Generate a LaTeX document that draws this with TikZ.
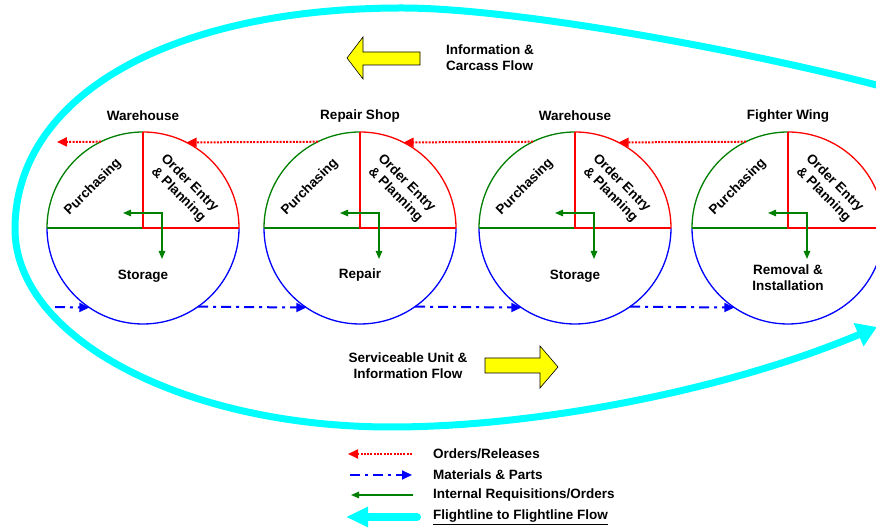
\documentclass[tikz,border=0pt]{standalone}
\usepackage{fontspec}
\setmainfont{Liberation Sans}
\usetikzlibrary{arrows.meta}
\definecolor{grn}{HTML}{008000}
\definecolor{cyn}{HTML}{00FFFF}
\definecolor{ylw}{HTML}{FFFF00}
\begin{document}
\begin{tikzpicture}[x=1pt,y=1pt,
  lbl/.style={font=\fontsize{13.5}{16}\selectfont\bfseries, inner sep=0pt, align=center},
  unitc/.style={circle, minimum size=192pt, inner sep=0pt, outer sep=0pt, draw=none},
  arcg/.style={draw=grn, line width=1.3pt},
  arcr/.style={draw=red, line width=1.3pt},
  arcb/.style={draw=blue, line width=1.3pt},
  ordr/.style={draw=red, line width=2pt, dash pattern=on 2pt off 1.3pt, -{Triangle[length=10pt,width=9pt]}},
  matl/.style={draw=blue, line width=2pt, dash pattern=on 10pt off 5pt on 3pt off 5pt, -{Triangle[length=10pt,width=9pt]}},
  req/.style={draw=grn, line width=1.3pt},
  yarrow/.style={fill=ylw, draw=black, line width=0.6pt},
  flowloop/.style={draw=cyn, line width=7pt}]
\useasboundingbox (0,0) rectangle (876,529);
\clip (0,0) rectangle (876,529);
\fill[white] (0,0) rectangle (876,529);

% big cyan loop
\coordinate (ls) at (884,442);
\coordinate (ltop) at (402,521);
\coordinate (lleft) at (15,300);
\coordinate (lbot) at (391,102);
\coordinate (lend) at (877,202);
\draw[flowloop, -{Triangle[length=20pt,width=24pt]}]
  (ls) .. controls (760,475) and (520,521) .. (ltop)
       .. controls (170,521) and (15,433) .. (lleft)
       .. controls (15,191) and (184,102) .. (lbot)
       .. controls (540,102) and (730,140) .. (lend);

\newcommand\mkunit[5]{%
  \node[unitc] (c#1) at (#2,301) {};
  \draw[arcg] (c#1.west) arc[start angle=180, end angle=90, radius=96];
  \draw[arcr] (c#1.north) arc[start angle=90, end angle=0, radius=96];
  \draw[arcb] (c#1.east) arc[start angle=0, end angle=-180, radius=96];
  \draw[arcg] (c#1.west) -- (c#1.center);
  \draw[arcr] (c#1.north) -- (c#1.center) -- (c#1.east);
  \node[lbl] (t#1) at (#2,413) {#3};
  \node[lbl, rotate=45] (p#1) at ([shift={(-50,41)}]c#1.center) {Purchasing};
  \node[lbl, rotate=-45] (o#1) at ([shift={(41,39)}]c#1.center) {Order Entry\\\& Planning};
  \node[lbl] (b#1) at ([shift={(0,#5)}]c#1.center) {#4};
  \coordinate (gl#1) at ([shift={(-20,15)}]c#1.center);
  \coordinate (gc#1) at ([shift={(19,15)}]c#1.center);
  \coordinate (gb#1) at ([shift={(19,-31)}]c#1.center);
  \draw[req, {Triangle[length=8pt,width=6.5pt]}-{Triangle[length=8pt,width=6.5pt]}] (gl#1) -- (gc#1) -- (gb#1);
}

\mkunit{1}{143}{Warehouse}{Storage}{-48}
\mkunit{2}{360}{Repair Shop}{Repair}{-47}
\mkunit{3}{575}{Warehouse}{Storage}{-48}
\mkunit{4}{788}{Fighter Wing}{Removal \&\\Installation}{-50}

% orders / releases (red)
\coordinate (rl) at (57,387);
\draw[ordr] (c1.116.4) -- (rl);
\draw[ordr] (c2.116.4) -- (c1.63.6);
\draw[ordr] (c3.116.4) -- (c2.63.6);
\draw[ordr] (c4.116.4) -- (c3.63.6);

% materials & parts (blue)
\coordinate (bl) at (55,222);
\draw[matl] (bl) -- (c1.-124.6);
\draw[matl] (c1.-55.4) -- (c2.-124.6);
\draw[matl] (c2.-55.4) -- (c3.-124.6);
\draw[matl] (c3.-55.4) -- (c4.-124.6);

% yellow block arrows
\draw[yarrow] (347,471) -- (363,492) -- (363,477) -- (420,477) -- (420,464) -- (363,464) -- (363,450) -- cycle;
\node[lbl, anchor=west, align=left] (inf) at (446,471) {Information \&\\Carcass Flow};
\draw[yarrow] (558,162) -- (540,183) -- (540,171) -- (485,171) -- (485,156) -- (540,156) -- (540,141) -- cycle;
\node[lbl] (svc) at (408,163) {Serviceable Unit \&\\Information Flow};

% legend
\coordinate (la1) at (412,75); \coordinate (lb1) at (348,75);
\draw[ordr] (la1) -- (lb1);
\coordinate (la2) at (350,54); \coordinate (lb2) at (412,54);
\draw[matl] (la2) -- (lb2);
\coordinate (la3) at (413,34); \coordinate (lb3) at (351,34);
\draw[req, -{Triangle[length=8pt,width=6.5pt]}] (la3) -- (lb3);
\coordinate (la4) at (417,12); \coordinate (lb4) at (346,12);
\draw[draw=cyn, line width=8pt, line cap=round, -{Triangle[length=22pt,width=19pt]}] (la4) -- (lb4);
\node[lbl, anchor=west] (lt1) at (433,75) {Orders/Releases};
\node[lbl, anchor=west] (lt2) at (433,54) {Materials \& Parts};
\node[lbl, anchor=west] (lt3) at (433,34) {Internal Requisitions/Orders};
\node[lbl, anchor=west] (lt4) at (433,12) {\underline{Flightline to Flightline Flow}};
\end{tikzpicture}
\end{document}
